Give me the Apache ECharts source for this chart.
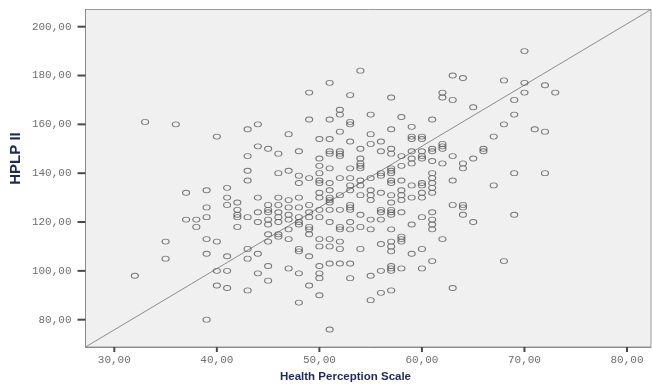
<!DOCTYPE html>
<html>
<head>
<meta charset="utf-8">
<script src="https://cdn.jsdelivr.net/npm/echarts@6/dist/echarts.min.js"></script>
<style>html,body{margin:0;padding:0;background:#fff;}#c{width:652px;height:387px;}</style>
</head>
<body>
<div id="c"></div>
<script>
// Axis extents and ticks
const xMin = 27.19, xMax = 82.34;
const yMin = 68.82, yMax = 207.04;
const xTicks = [30, 40, 50, 60, 70, 80];
const yTicks = [80, 100, 120, 140, 160, 180, 200];
const xTitle = 'Health Perception Scale';
const yTitle = 'HPLP II';

// Observed points grouped by Health Perception Scale score (x) -> HPLP II values
const hpsScores = [32,33,35,36,37,38,39,40,41,42,43,44,45,46,47,48,49,50,51,52,53,54,55,56,57,58,59,60,61,62,63,64,65,66,67,68,69,70,71,72,73];
const hplpValues = [
  [98],
  [161],
  [112,105],
  [160],
  [132,121],
  [121,118],
  [133,126,122,113,107,80],
  [155,112,100,94],
  [134,130,127,106,100,93],
  [128,125,123,122,118],
  [158,147,141,137,122,109,105,92],
  [160,151,130,124,120,107,99],
  [150,127,125,124,121,119,115,112,102,96],
  [148,140,130,127,124,122,120,115,114],
  [156,141,129,126,123,121,117,113,101],
  [149,139,136,130,126,122,120,119,109,108,99,87],
  [173,162,138,127,124,122,118,117,115,106,94],
  [154,146,143,140,137,136,132,130,125,122,113,110,102,99,97,90],
  [177,162,154,149,148,142,136,133,130,129,128,125,120,113,110,103,76],
  [166,164,157,149,148,147,138,131,125,118,117,112,109,103],
  [172,161,160,153,142,138,135,133,127,126,125,120,117,103,97],
  [182,150,146,144,143,142,137,135,131,123,118,109],
  [164,156,152,138,133,131,129,121,117,98,88],
  [153,149,140,139,132,125,124,121,111,100,91],
  [171,158,150,148,142,141,140,137,136,131,128,125,124,123,117,112,110,108,102,101,100,92],
  [163,147,143,137,133,131,129,124,114,113,112,101],
  [159,155,154,149,146,144,135,130,119,107],
  [155,154,149,147,146,136,135,132,130,122,109,101],
  [162,150,149,145,140,138,136,134,132,124,121,119,117,104],
  [173,171,152,151,150,144,113],
  [180,170,147,137,127,93],
  [179,144,142,127,126,123],
  [167,146,120],
  [150,149],
  [155,135],
  [178,160,104],
  [170,164,140,123],
  [190,177,173],
  [158],
  [176,157,140],
  [173]
];

const points = [];
hpsScores.forEach((x, i) => hplpValues[i].forEach(y => points.push([x, y])));
const refLine = [[xMin, yMin], [xMax, yMax]];

const fmt = v => v.toFixed(2).replace('.', ',');

const chart = echarts.init(document.getElementById('c'), null, {renderer: 'canvas'});
const titles = [
  {type: 'text', left: 280, top: 371,
    style: {text: xTitle, fill: '#1f2a5c', font: 'bold 11.5px "Liberation Sans"'}},
  {type: 'text', x: 16, y: 158.5, rotation: Math.PI / 2,
    style: {text: yTitle, fill: '#1f2a5c', font: 'bold 15px "Liberation Sans"',
      align: 'center', verticalAlign: 'middle'}}
];
chart.setOption({
  animation: false,
  backgroundColor: '#ffffff',
  grid: {
    left: 85.5, top: 9.5, right: 1, bottom: 40,
    show: true, backgroundColor: '#f0f0f0', borderColor: '#9a9a9a', borderWidth: 1
  },
  xAxis: {
    type: 'value', min: xMin, max: xMax,
    axisLine: {show: true, onZero: false, lineStyle: {color: '#8a8a8a', width: 1}},
    axisTick: {show: false},
    axisLabel: {customValues: xTicks, formatter: fmt, margin: 8, color: '#6e6e6e',
      fontFamily: 'Liberation Mono', fontSize: 11},
    splitLine: {show: false}
  },
  yAxis: {
    type: 'value', min: yMin, max: yMax,
    axisLine: {show: true, onZero: false, lineStyle: {color: '#8a8a8a', width: 1}},
    axisTick: {show: false},
    axisLabel: {customValues: yTicks, formatter: fmt, margin: 14, color: '#6e6e6e',
      fontFamily: 'Liberation Mono', fontSize: 11},
    splitLine: {show: false}
  },
  graphic: titles,
  series: [
    {
      type: 'line', data: refLine, showSymbol: false, silent: true,
      lineStyle: {color: '#8c8c8c', width: 1}, z: 1
    },
    {
      type: 'scatter', data: points, symbol: 'circle', symbolSize: [7, 5],
      itemStyle: {color: 'rgba(0,0,0,0)', borderColor: '#5a5a5a', borderWidth: 1}, z: 2
    }
  ]
});

// Tick marks placed through the chart's own axis scales
const tickColor = '#4a4a4a';
const tickEls = [];
xTicks.forEach(v => {
  const p = chart.convertToPixel({gridIndex: 0}, [v, yMin]);
  tickEls.push({type: 'rect', z: 100, silent: true,
    shape: {x: p[0] - 1, y: p[1], width: 2, height: 5}, style: {fill: tickColor}});
});
yTicks.forEach(v => {
  const p = chart.convertToPixel({gridIndex: 0}, [xMin, v]);
  tickEls.push({type: 'rect', z: 100, silent: true,
    shape: {x: p[0] - 8, y: p[1] - 1, width: 8, height: 2}, style: {fill: tickColor}});
});
chart.setOption({graphic: titles.concat(tickEls)});
</script>
</body>
</html>
